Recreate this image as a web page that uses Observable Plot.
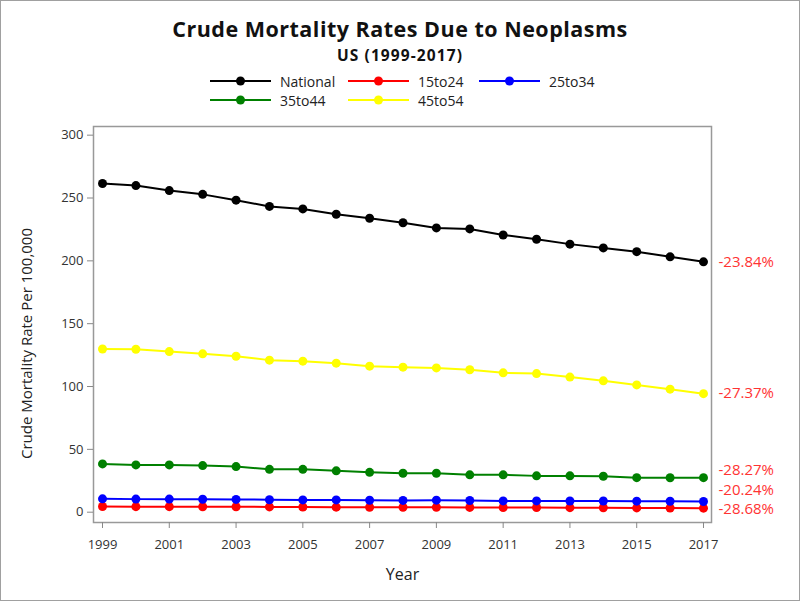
<!DOCTYPE html>
<html><head><meta charset="utf-8">
<script src="https://cdn.jsdelivr.net/npm/d3@7"></script>
<script src="https://cdn.jsdelivr.net/npm/@observablehq/plot@0.6"></script>
<style>
body{margin:0;background:#fff;}
#wrap{position:relative;width:798px;height:599px;border:1px solid #a0a0a0;overflow:hidden;font-family:"Open Sans",sans-serif;color:#111;background:#fff;}
#title{position:absolute;top:16px;left:0;width:100%;text-align:center;font-weight:bold;font-size:21.5px;line-height:24px;letter-spacing:0.5px;}
#subtitle{position:absolute;top:44.5px;left:0;width:100%;text-align:center;font-weight:bold;font-size:15.5px;line-height:19px;letter-spacing:1.1px;}
.leg{position:absolute;display:flex;align-items:center;font-size:14px;color:#222;height:18px;}
.leg svg{margin-right:9px;}
#chart{position:absolute;left:0;top:111px;}
</style></head>
<body>
<div id="wrap">
  <div id="title">Crude Mortality Rates Due to Neoplasms</div>
  <div id="subtitle">US (1999-2017)</div>
  <div id="legend"></div>
  <div id="chart"></div>
</div>
<script>
const years = [1999,2000,2001,2002,2003,2004,2005,2006,2007,2008,2009,2010,2011,2012,2013,2014,2015,2016,2017];
const seriesNames = ["National","15to24","25to34","35to44","45to54"];
const seriesColors = ["#000000","#ff0000","#0000ff","#008000","#ffff00"];
const national = [261.5,259.9,255.9,252.9,248.3,243.3,241.3,237.1,233.9,230.3,226.2,225.4,220.6,217.2,213.3,210.3,207.3,203.2,199.2];
const age15to24 = [4.5,4.4,4.4,4.3,4.3,4.2,4.1,4.0,3.9,3.9,3.9,3.8,3.7,3.7,3.6,3.5,3.4,3.3,3.2];
const age25to34 = [10.6,10.4,10.4,10.3,10.2,9.9,9.8,9.8,9.5,9.4,9.6,9.3,9.0,9.0,8.9,8.9,8.8,8.7,8.5];
const age35to44 = [38.4,37.6,37.6,37.1,36.3,34.1,34.1,32.9,31.7,31.0,31.0,29.7,29.7,28.9,28.9,28.6,27.5,27.4,27.5];
const age45to54 = [129.9,129.7,127.8,126.0,124.1,121.0,120.2,118.6,116.2,115.4,114.8,113.3,110.9,110.3,107.5,104.5,101.3,97.9,94.3];
const changeLabels = ["-23.84%","-28.68%","-20.24%","-28.27%","-27.37%"];
const xTicks = [1999,2001,2003,2005,2007,2009,2011,2013,2015,2017];
const yTicks = [0,50,100,150,200,250,300];
const xLabel = "Year";
const yLabel = "Crude Mortality Rate Per 100,000";

const seriesValues = [national, age15to24, age25to34, age35to44, age45to54];
const data = [];
seriesNames.forEach((s, i) => years.forEach((yr, j) => data.push({series: s, year: yr, value: seriesValues[i][j]})));
const lastPoints = seriesNames.map((s, i) => ({series: s, year: years[years.length - 1], value: seriesValues[i][years.length - 1], label: changeLabels[i]}));

// legend
const legendPos = [[209, 71], [347, 71], [478, 71], [209, 90], [347, 90]];
const legend = document.getElementById("legend");
seriesNames.forEach((s, i) => {
  const d = document.createElement("div");
  d.className = "leg";
  d.style.left = legendPos[i][0] + "px";
  d.style.top = legendPos[i][1] + "px";
  d.innerHTML = `<svg width="61" height="12"><line x1="0" x2="61" y1="6" y2="6" stroke="${seriesColors[i]}" stroke-width="2"/><circle cx="30.5" cy="6" r="4.5" fill="${seriesColors[i]}"/></svg><span>${s}</span>`;
  legend.appendChild(d);
});

const labelDy = {"National": 0, "15to24": 1.5, "25to34": -11, "35to44": -7, "45to54": 0};

const chart = Plot.plot({
  width: 798, height: 488,
  marginLeft: 92, marginRight: 88, marginTop: 14, marginBottom: 78,
  style: {fontFamily: "Open Sans, sans-serif", fontSize: "13px", color: "#333", background: "transparent"},
  x: {domain: [1998.73, 2017.24]},
  y: {domain: [-8.2, 306.9]},
  color: {domain: seriesNames, range: seriesColors},
  marks: [
    Plot.frame({stroke: "#999", strokeWidth: 1.5}),
    Plot.axisX({ticks: xTicks, tickFormat: "d", tickSize: 6, tickPadding: 11, stroke: "#888", fill: "#333", fontSize: 13, label: null}),
    Plot.axisY({ticks: yTicks, tickSize: 6, tickPadding: 4, stroke: "#888", fill: "#333", fontSize: 13, label: null}),
    Plot.line(data, {x: "year", y: "value", z: "series", stroke: "series", strokeWidth: 2}),
    Plot.dot(data, {x: "year", y: "value", fill: "series", r: 4.5}),
    ...lastPoints.map(p => Plot.text([p], {x: "year", y: "value", text: "label", dx: 15, dy: labelDy[p.series], textAnchor: "start", fill: "#ff3333", fontSize: 15})),
    Plot.text([xLabel], {frameAnchor: "bottom", dy: 57, fontSize: 16, fill: "#222"}),
    Plot.text([yLabel], {frameAnchor: "left", textAnchor: "middle", rotate: -90, dx: -66, dy: 19, fontSize: 15, fill: "#222"})
  ]
});
document.getElementById("chart").appendChild(chart);
</script>
</body></html>
